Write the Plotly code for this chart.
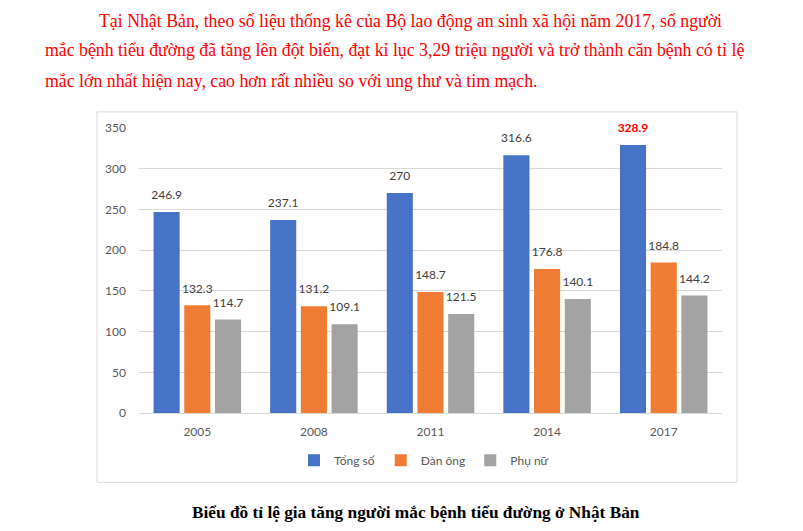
import plotly.graph_objs as go

years = ["2005", "2008", "2011", "2014", "2017"]
tong_so = [246.9, 237.1, 270, 316.6, 328.9]
dan_ong = [132.3, 131.2, 148.7, 176.8, 184.8]
phu_nu = [114.7, 109.1, 121.5, 140.1, 144.2]
y_ticks = [0, 50, 100, 150, 200, 250, 300, 350]

paragraph = [
    "Tại Nhật Bản, theo số liệu thống kê của Bộ lao động an sinh xã hội năm 2017, số người",
    "mắc bệnh tiểu đường đã tăng lên đột biến, đạt kỉ lục 3,29 triệu người và trở thành căn bệnh có tỉ lệ",
    "mắc lớn nhất hiện nay, cao hơn rất nhiều so với ung thư và tim mạch.",
]
caption = "Biểu đồ tỉ lệ gia tăng người mắc bệnh tiểu đường ở Nhật Bản"

W, H = 787, 531
label_font = "Lato, 'Open Sans', sans-serif"
serif = "'Liberation Serif', 'Times New Roman', serif"


def px_x(v):
    # target picture x -> paper x
    return (v - 8) / W


def px_y(v):
    # target picture y -> paper y (page offset + slight vertical squeeze)
    return 1 - ((v - 16.5) / 0.968) / H


series = [
    ("Tổng số", tong_so, "#4673c6"),
    ("Đàn ông", dan_ong, "#ee7d33"),
    ("Phụ nữ", phu_nu, "#a3a3a3"),
]

fig = go.Figure()
for i, (name, vals, color) in enumerate(series):
    fig.add_trace(go.Bar(
        x=years, y=vals, name=name,
        marker=dict(color=color, line=dict(width=0)),
        offsetgroup=str(i),
    ))

# value labels: invisible markers push the text a little above each bar
for i, (name, vals, color) in enumerate(series):
    labels = [str(v) for v in vals]
    colors = ["#404040"] * len(vals)
    if i == 0:
        # the 2017 total is highlighted in red bold
        labels[-1] = "<b>" + labels[-1] + "</b>"
        colors[-1] = "#ff0000"
    fig.add_trace(go.Scatter(
        x=years, y=vals, mode="markers+text",
        offsetgroup=str(i),
        marker=dict(size=14, opacity=0),
        text=labels, textposition="top center",
        textfont=dict(color=colors, size=12, family=label_font),
        showlegend=False, hoverinfo="skip", cliponaxis=False,
    ))

fig.update_xaxes(
    domain=[px_x(139), px_x(722)],
    showgrid=False,
    showline=False,
    ticks="",
    ticklabelstandoff=10,
    tickfont=dict(size=12, color="#595959", family=label_font),
)
fig.update_yaxes(
    domain=[px_y(412), px_y(128)],
    range=[0, 350],
    tickvals=y_ticks,
    showgrid=True,
    gridcolor="#d9d9d9",
    gridwidth=1,
    zeroline=True,
    zerolinecolor="#d9d9d9",
    zerolinewidth=1,
    showline=False,
    ticklabelstandoff=12,
    tickfont=dict(size=12, color="#595959", family=label_font),
)

annotations = []
# paragraph lines (first line indented)
line_x = [97, 43, 43]
line_y = [21, 50, 81]
for txt, lx, ly in zip(paragraph, line_x, line_y):
    annotations.append(dict(
        x=px_x(lx), y=px_y(ly), xref="paper", yref="paper",
        xanchor="left", yanchor="middle", showarrow=False,
        text=txt, font=dict(family=serif, size=17.8, color="#ff0000"),
    ))
annotations.append(dict(
    x=px_x(416), y=px_y(511), xref="paper", yref="paper",
    xanchor="center", yanchor="middle", showarrow=False,
    text="<b>" + caption + "</b>",
    font=dict(family=serif, size=17.3, color="#000000"),
))

fig.update_layout(
    width=W, height=H,
    margin=dict(l=0, r=0, t=0, b=0),
    paper_bgcolor="#ffffff",
    plot_bgcolor="#ffffff",
    barmode="group",
    scattermode="group",
    bargap=0.21,
    bargroupgap=0.15,
    showlegend=True,
    legend=dict(
        orientation="h",
        x=px_x(424), xanchor="center",
        y=px_y(459), yanchor="middle",
        font=dict(size=12, color="#595959", family=label_font),
        itemwidth=30,
        traceorder="normal",
    ),
    shapes=[dict(
        type="rect", xref="paper", yref="paper",
        x0=px_x(97), x1=px_x(737), y0=px_y(481), y1=px_y(112),
        line=dict(color="#d9d9d9", width=1), layer="below",
    )],
    annotations=annotations,
)

fig.write_html("out.html")
